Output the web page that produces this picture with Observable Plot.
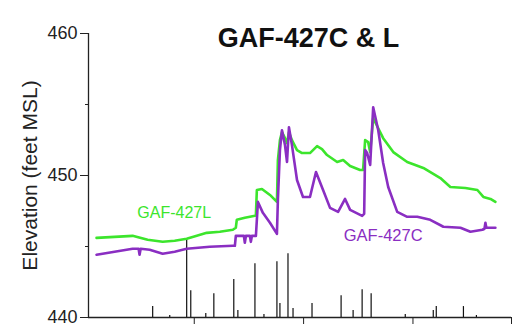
<!DOCTYPE html>
<html>
<head>
<meta charset="utf-8">
<script src="https://cdn.jsdelivr.net/npm/d3@7"></script>
<script src="https://cdn.jsdelivr.net/npm/@observablehq/plot@0.6"></script>
<style>
  body { margin: 0; background: #fff; }
</style>
</head>
<body>
<div id="chart"></div>
<script>
// Day index (x) and elevation in feet MSL (y)
const greenDays = [6.7,21.7,36.7,49.2,61.7,71.7,81.7,90.1,98.4,109.3,120.1,122.6,123.4,130.1,138.5,139.3,140.1,144.3,151.0,156.8,157.6,159.3,161.0,163.5,165.2,166.8,169.3,173.5,177.7,184.3,190.2,194.3,198.5,206.9,211.9,217.7,226.0,228.5,230.2,232.7,234.4,236.9,241.1,245.2,253.6,265.2,278.6,292.8,301.1,313.6,323.6,328.6,334.5,338.6];
const greenElev = [445.61,445.68,445.75,445.47,445.33,445.40,445.54,445.75,445.96,446.04,446.18,446.32,446.88,447.02,447.16,447.23,448.98,449.05,448.63,448.14,451.09,452.49,453.05,452.63,452.28,453.05,452.49,451.79,451.58,451.58,452.07,451.86,451.44,450.95,451.09,450.67,450.39,450.39,452.49,452.35,451.65,454.04,453.33,452.63,451.65,450.95,450.53,449.82,449.19,449.12,448.98,448.49,448.35,448.14];

const purpleDays = [6.7,21.7,36.7,41.7,42.5,43.4,50.9,61.7,71.7,81.7,100.9,120.1,121.8,122.6,129.3,130.1,131.0,134.3,135.1,136.0,139.3,141.0,145.1,151.0,156.8,157.6,159.3,161.0,163.5,165.2,166.8,169.3,173.5,178.5,184.3,189.3,195.2,201.0,207.7,213.5,217.7,227.7,229.4,230.2,231.9,234.4,236.9,241.1,245.2,249.4,256.9,265.2,273.6,284.4,295.3,309.5,317.8,327.8,329.5,330.3,331.1,338.6];
const purpleElev = [444.42,444.63,444.84,444.84,444.42,444.84,444.77,444.49,444.63,444.84,444.98,445.05,445.05,445.75,445.75,445.26,445.75,445.75,445.33,445.75,445.75,448.14,447.37,446.67,445.89,448.28,451.79,453.19,452.14,450.95,453.40,452.14,449.68,448.49,448.49,450.25,448.98,447.72,447.44,448.35,447.58,447.16,447.30,451.79,451.58,450.74,454.81,453.19,450.88,449.19,447.44,447.09,447.09,446.88,446.39,446.32,446.04,446.18,446.25,446.67,446.32,446.32];

// Precipitation spikes (drawn on elevation scale from 440)
const spikeDays = [53.4,67.6,81.7,85.1,97.6,104.3,120.9,124.3,138.5,146.0,156.8,159.3,166.0,170.2,186.0,210.2,220.2,227.7,235.2,263.6,286.9,289.4,312.0,322.8];
const spikeTops = [440.77,440.14,445.54,441.89,440.28,441.68,442.67,440.49,443.79,440.21,443.93,440.98,444.49,440.63,440.98,441.54,440.49,441.96,441.68,440.21,440.49,440.77,440.77,440.14];

const yMajor = [440, 450, 460];
const yMinor = [445, 455];
const xTicks = [88, 179, 270, 352];

const title = "GAF-427C & L";
const yLabel = "Elevation (feet MSL)";
const seriesLabels = ["GAF-427L", "GAF-427C"];

const green = greenDays.map((d, i) => ({day: d, elev: greenElev[i]}));
const purple = purpleDays.map((d, i) => ({day: d, elev: purpleElev[i]}));
const spikes = spikeDays.map((d, i) => ({day: d, top: spikeTops[i]}));

const GREEN = "#3ce52c";
const PURPLE = "#8a2ec2";
const FONT = "'Liberation Sans', Arial, Helvetica, sans-serif";

const plot = Plot.plot({
  width: 514,
  height: 332,
  marginLeft: 88,
  marginRight: 3,
  marginTop: 33,
  marginBottom: 15,
  style: {fontFamily: FONT, background: "#fff", color: "#222"},
  x: {domain: [0, 352]},
  y: {domain: [440, 460]},
  marks: [
    Plot.axisY({ticks: yMajor, tickSize: 8, tickPadding: 3, fontSize: 18, label: null}),
    Plot.axisY({ticks: yMinor, tickSize: 3, tickFormat: () => "", label: null}),
    Plot.axisX({ticks: xTicks, tickSize: 7, tickFormat: () => "", label: null}),
    Plot.ruleX([0], {stroke: "#222", strokeWidth: 1.3}),
    Plot.ruleY([440], {stroke: "#222", strokeWidth: 1.3}),
    Plot.ruleX(spikes, {x: "day", y1: 440, y2: "top", stroke: "#111", strokeWidth: 1.2}),
    Plot.line(green, {x: "day", y: "elev", stroke: GREEN, strokeWidth: 2.6}),
    Plot.line(purple, {x: "day", y: "elev", stroke: PURPLE, strokeWidth: 2.6}),
    Plot.text([seriesLabels[0]], {x: 71.3, y: 447.37, text: d => d, fill: GREEN, fontSize: 16}),
    Plot.text([seriesLabels[1]], {x: 245.2, y: 445.75, text: d => d, fill: PURPLE, fontSize: 16.5}),
    Plot.text([title], {frameAnchor: "top", dx: 8.5, dy: -6, text: d => d, fontSize: 27, fontWeight: "bold", fill: "#111"}),
    Plot.text([yLabel], {frameAnchor: "left", textAnchor: "middle", lineAnchor: "middle", dx: -58, rotate: -90, text: d => d, fontSize: 21, fill: "#222"})
  ]
});
document.getElementById("chart").append(plot);
</script>
</body>
</html>
